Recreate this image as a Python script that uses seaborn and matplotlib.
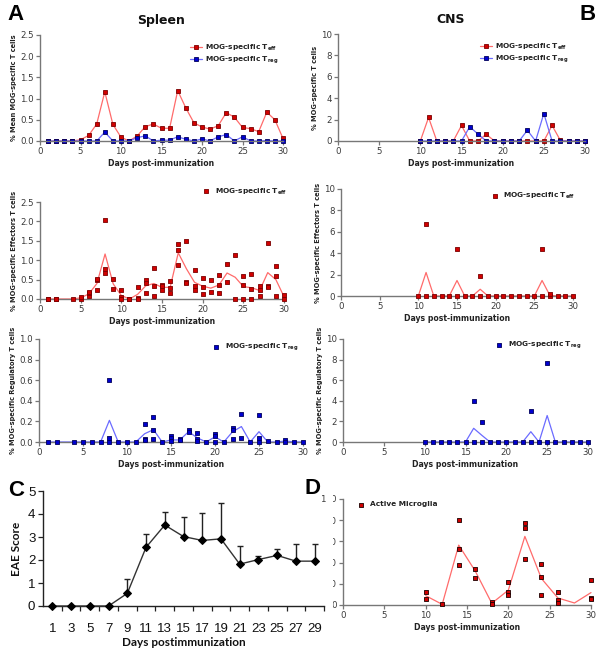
import numpy as np
import pandas as pd
import matplotlib
matplotlib.use('Agg')
import matplotlib.pyplot as plt
import seaborn as sns
from matplotlib.patches import Rectangle

sns.set_theme(style='ticks')
plt.rcParams['font.family'] = ['DejaVu Sans']
plt.rcParams['mathtext.fontset'] = 'custom'
plt.rcParams['mathtext.bf'] = 'DejaVu Sans:bold'
plt.rcParams['mathtext.rm'] = 'DejaVu Sans'

# ---------------- data ----------------
days_all = list(range(1, 31))
spleen_teff_mean = [0, 0, 0, 0, 0.03, 0.13, 0.40, 1.16, 0.39, 0.09, 0, 0.12, 0.34, 0.40, 0.30,
                    0.30, 1.19, 0.78, 0.43, 0.33, 0.28, 0.36, 0.67, 0.56, 0.32, 0.29, 0.22, 0.68, 0.50, 0.06]
spleen_treg_mean = [0, 0, 0, 0, 0, 0, 0, 0.21, 0, 0, 0, 0.08, 0.12, 0, 0.02,
                    0.02, 0.10, 0.04, 0, 0.05, 0, 0.10, 0.15, 0, 0.10, 0, 0, 0.01, 0, 0]

cns_days = list(range(10, 31))
cns_teff_mean = [0, 2.2, 0, 0, 0, 1.45, 0, 0, 0.63, 0, 0, 0, 0, 0, 0, 0, 1.45, 0.07, 0, 0, 0]
cns_treg_mean = [0, 0, 0, 0, 0, 0, 1.33, 0.65, 0, 0, 0, 0, 0, 1.0, 0, 2.57, 0, 0, 0, 0, 0]

spleen_teff_pt_day = [1, 1, 2, 2, 4, 5, 5, 6, 6, 6, 7, 7, 7, 8, 8, 8, 9, 9, 10, 10, 10, 11, 11,
                      12, 12, 12, 13, 13, 13, 14, 14, 14, 15, 15, 15, 16, 16, 16, 17, 17, 17,
                      18, 18, 18, 19, 19, 19, 20, 20, 20, 21, 21, 22, 22, 22, 23, 23, 24, 24,
                      25, 25, 25, 26, 26, 26, 27, 27, 27, 28, 28, 28, 29, 29, 29, 30, 30]
spleen_teff_pt_val = [0, 0, 0, 0, 0, 0.01, 0.05, 0.09, 0.15, 0.18, 0.24, 0.48, 0.51, 2.03, 0.78, 0.68,
                      0.52, 0.26, 0.22, 0.05, 0.0, 0, 0, 0.31, 0.03, 0.0, 0.48, 0.41, 0.16,
                      0.80, 0.34, 0.08, 0.37, 0.33, 0.22, 0.47, 0.29, 0.15, 1.41, 1.25, 0.88,
                      1.49, 0.45, 0.40, 0.76, 0.34, 0.22, 0.55, 0.31, 0.14, 0.48, 0.19,
                      0.61, 0.35, 0.15, 0.90, 0.44, 1.14, 0.0, 0.60, 0.36, 0.0, 0.65, 0.25, 0.0,
                      0.34, 0.24, 0.09, 1.45, 0.33, 0.30, 0.84, 0.60, 0.09, 0.11, 0.01]

spleen_treg_pt_day = [1, 2, 4, 5, 6, 7, 8, 8, 8, 9, 10, 11, 12, 12, 12, 13, 13, 13, 14,
                      15, 15, 15, 16, 16, 17, 17, 18, 18, 18, 19, 20, 20, 20, 21, 22, 22, 22,
                      23, 23, 24, 25, 25, 25, 26, 27, 28, 28, 29, 30]
spleen_treg_pt_val = [0, 0, 0, 0, 0, 0, 0.60, 0.04, 0.0, 0, 0, 0, 0.17, 0.03, 0.02, 0.24, 0.12, 0.03, 0,
                      0.06, 0.04, 0.01, 0.03, 0.02, 0.12, 0.10, 0.09, 0.03, 0.01, 0, 0.08, 0.06, 0.0,
                      0, 0.14, 0.12, 0.03, 0.27, 0.04, 0, 0.26, 0.04, 0.0, 0.01, 0, 0.02, 0.0, 0, 0]

cns_teff_pt_day = list(range(10, 31)) + [11, 15, 18, 26, 27]
cns_teff_pt_val = [0] * 21 + [6.7, 4.35, 1.9, 4.35, 0.2]
cns_treg_pt_day = list(range(10, 31)) + [16, 17, 23, 25]
cns_treg_pt_val = [0] * 21 + [4.0, 1.95, 3.0, 7.7]

eae_days = [1, 3, 5, 7, 9, 11, 13, 15, 17, 19, 21, 23, 25, 27, 29]
eae_mean = [0, 0, 0, 0, 0.55, 2.55, 3.52, 3.02, 2.85, 2.92, 1.82, 2.02, 2.20, 1.95, 1.95]
eae_err = [0, 0, 0, 0, 0.63, 0.57, 0.58, 0.86, 1.20, 1.56, 0.78, 0.15, 0.28, 0.75, 0.75]

micro_mean_days = [10, 12, 14, 16, 18, 20, 22, 24, 26, 28, 30]
micro_mean = [8.8, 0.6, 56.5, 32, 1.6, 14, 64.7, 25, 6.6, 1.9, 11.7]
micro_pt_day = [10, 10, 12, 14, 14, 14, 16, 16, 18, 18, 20, 20, 20, 22, 22, 22,
                24, 24, 24, 26, 26, 26, 30, 30, 30]
micro_pt_val = [12.6, 5.4, 0.6, 80, 52.7, 38, 34, 25.5, 2.8, 1.0, 22, 12.6, 9.5, 77.6, 73, 43.5,
                39, 26.8, 9.8, 12.6, 5, 1.9, 23.7, 6.3, 5.4]

# ---------------- styles ----------------
RED_LINE = '#ff6b6b'
RED_FACE = '#d10000'
RED_EDGE = '#7a0000'
BLUE_LINE = '#6b6bff'
BLUE_FACE = '#0000d0'
BLUE_EDGE = '#00005a'
TEFF = r'MOG-specific T$_{\mathbf{eff}}$'
TREG = r'MOG-specific T$_{\mathbf{reg}}$'
XLAB = dict(fontsize=5.6, fontweight='bold', color='#222222')
YLAB = dict(fontsize=4.8, fontweight='bold', color='#222222')

fig = plt.figure(figsize=(6, 6.53), dpi=100)
W, H = 600, 653


def add_ax(l, r, t, b):
    return fig.add_axes([l / W, 1 - b / H, (r - l) / W, (b - t) / H])


def style(ax, xlim, ylim, yticks, yfmt, xlabel=True, ylabel=None):
    ax.set_xlim(*xlim)
    ax.set_ylim(*ylim)
    ax.set_xticks([0, 5, 10, 15, 20, 25, 30])
    ax.set_yticks(yticks)
    ax.set_yticklabels([yfmt.format(v) for v in yticks])
    for s in ['top', 'right']:
        ax.spines[s].set_visible(False)
    for s in ['left', 'bottom']:
        ax.spines[s].set_color('#777777')
        ax.spines[s].set_linewidth(1.0)
    ax.tick_params(axis='both', direction='out', length=3, width=0.9, color='#777777',
                   labelsize=6.2, labelcolor='#3a3a3a', pad=1.5)
    ax.set_xlabel('Days post-immunization' if xlabel else '', labelpad=2, **XLAB)
    ax.set_ylabel(ylabel or '', labelpad=2, **YLAB)
    ax.grid(False)


def mean_line(ax, x, y, lc, fc, ec, label=None, marker=True):
    df = pd.DataFrame({'day': x, 'val': y})
    kw = dict(marker='s', markersize=3.3, markerfacecolor=fc, markeredgecolor=ec,
              markeredgewidth=0.6) if marker else dict()
    sns.lineplot(data=df, x='day', y='val', ax=ax, color=lc, linewidth=0.9, errorbar=None,
                 label=label, clip_on=False, legend=False, **kw)


def points(ax, x, y, fc, ec, label=None):
    df = pd.DataFrame({'day': x, 'val': y})
    sns.scatterplot(data=df, x='day', y='val', ax=ax, marker='s', s=9, color=fc,
                    edgecolor=ec, linewidth=0.6, label=label, clip_on=False, zorder=3, legend=False)


def legend(ax, **kw):
    leg = ax.legend(frameon=False, prop={'size': 5.3, 'weight': 'bold'}, handlelength=1.6,
                    handletextpad=0.4, labelspacing=0.25, borderaxespad=0.2, **kw)
    for t in leg.get_texts():
        t.set_color('#222222')
    return leg


# ---- A top ----
ax = add_ax(40, 283, 35, 141)
mean_line(ax, days_all, spleen_teff_mean, RED_LINE, RED_FACE, RED_EDGE, TEFF)
mean_line(ax, days_all, spleen_treg_mean, BLUE_LINE, BLUE_FACE, BLUE_EDGE, TREG)
style(ax, (0, 30), (0, 2.5), [0, 0.5, 1.0, 1.5, 2.0, 2.5], '{:.1f}',
      ylabel='% Mean MOG-specific T cells')
legend(ax, loc='upper right', bbox_to_anchor=(1.0, 0.97))
ax.set_title('Spleen', fontsize=9, fontweight='bold', pad=8, color='#111111')

# ---- B top ----
ax = add_ax(338, 585, 34, 141)
mean_line(ax, cns_days, cns_teff_mean, RED_LINE, RED_FACE, RED_EDGE, TEFF)
mean_line(ax, cns_days, cns_treg_mean, BLUE_LINE, BLUE_FACE, BLUE_EDGE, TREG)
style(ax, (0, 30), (0, 10), [0, 2, 4, 6, 8, 10], '{:d}', ylabel='% MOG-specific T cells')
legend(ax, loc='upper right', bbox_to_anchor=(0.95, 0.97))
ax.set_title('CNS', fontsize=9, fontweight='bold', pad=8, color='#111111', x=0.455)

# ---- A middle ----
ax = add_ax(40, 284, 202, 299)
mean_line(ax, days_all, spleen_teff_mean, RED_LINE, RED_FACE, RED_EDGE, marker=False)
points(ax, spleen_teff_pt_day, spleen_teff_pt_val, RED_FACE, RED_EDGE, TEFF)
style(ax, (0, 30), (0, 2.5), [0, 0.5, 1.0, 1.5, 2.0, 2.5], '{:.1f}',
      ylabel='% MOG-specific Effectors T cells')
legend(ax, loc='lower right', bbox_to_anchor=(1.03, 1.01))

# ---- B middle ----
ax = add_ax(341, 573, 189, 296)
mean_line(ax, cns_days, cns_teff_mean, RED_LINE, RED_FACE, RED_EDGE, marker=False)
points(ax, cns_teff_pt_day, cns_teff_pt_val, RED_FACE, RED_EDGE, TEFF)
style(ax, (0, 30), (0, 10), [0, 2, 4, 6, 8, 10], '{:d}',
      ylabel='% MOG-specific Effectors T cells')
legend(ax, loc='upper right', bbox_to_anchor=(1.03, 1.02))

# ---- A bottom ----
ax = add_ax(39, 303, 339, 442)
mean_line(ax, days_all, spleen_treg_mean, BLUE_LINE, BLUE_FACE, BLUE_EDGE, marker=False)
points(ax, spleen_treg_pt_day, spleen_treg_pt_val, BLUE_FACE, BLUE_EDGE, TREG)
style(ax, (0, 30), (0, 1.0), [0, 0.2, 0.4, 0.6, 0.8, 1.0], '{:.1f}',
      ylabel='% MOG-specific Regulatory T cells')
legend(ax, loc='upper right', bbox_to_anchor=(1.0, 1.02))

# ---- B bottom ----
ax = add_ax(343, 588, 339, 442)
mean_line(ax, cns_days, cns_treg_mean, BLUE_LINE, BLUE_FACE, BLUE_EDGE, marker=False)
points(ax, cns_treg_pt_day, cns_treg_pt_val, BLUE_FACE, BLUE_EDGE, TREG)
style(ax, (0, 30), (0, 10), [0, 2, 4, 6, 8, 10], '{:d}',
      ylabel='% MOG-specific Regulatory T cells')
legend(ax, loc='upper right', bbox_to_anchor=(0.99, 1.04))

# ---- C ----
ax = add_ax(43, 324, 491, 606)
dfc = pd.DataFrame({'day': eae_days, 'score': eae_mean})
ax.errorbar(eae_days, eae_mean, yerr=[np.zeros(len(eae_err)), eae_err], fmt='none',
            ecolor='#222222', elinewidth=1.0, capsize=2.5, capthick=1.0, zorder=2)
sns.lineplot(data=dfc, x='day', y='score', ax=ax, color='#333333', linewidth=1.0,
             marker='D', markersize=4.5, markerfacecolor='black', markeredgecolor='black',
             errorbar=None, clip_on=False, zorder=3)
ax.set_xlim(0, 30)
ax.set_ylim(0, 5)
ax.set_xticks(eae_days)
ax.set_xticklabels([str(d) for d in eae_days], fontfamily='Liberation Sans', fontsize=9.5)
ax.set_xticks(list(range(2, 31, 2)), minor=True)
ax.tick_params(axis='x', which='major', length=0, pad=12, labelcolor='#111111')
ax.tick_params(axis='x', which='minor', length=3.5, width=0.9, direction='out', color='#222222')
ax.set_yticks([0, 1, 2, 3, 4, 5])
ax.tick_params(axis='y', length=3.5, width=0.9, direction='out', color='#222222',
               labelsize=9.5, labelcolor='#111111', pad=2)
for lab in ax.get_yticklabels():
    lab.set_fontfamily('Liberation Sans')
for s in ['top', 'right']:
    ax.spines[s].set_visible(False)
for s in ['left', 'bottom']:
    ax.spines[s].set_color('#222222')
    ax.spines[s].set_linewidth(1.0)
ax.set_xlabel('Days postimmunization', fontsize=8.5, fontweight='bold', fontfamily='Lato',
              labelpad=2, color='#111111')
ax.set_ylabel('EAE Score', fontsize=8.5, fontweight='bold', fontfamily='Lato', labelpad=4,
              color='#111111')
ax.grid(False)

# ---- D ----
ax = add_ax(343, 591, 499, 605)
mean_line(ax, micro_mean_days, micro_mean, RED_LINE, RED_FACE, RED_EDGE, marker=False)
points(ax, micro_pt_day, micro_pt_val, '#d00000', '#1a0000', 'Active Microglia')
style(ax, (0, 30), (0, 100), [0, 20, 40, 60, 80, 100], '{:d}')
legend(ax, loc='upper left', bbox_to_anchor=(0.03, 1.02))
ax.set_ylabel('')
fig.add_artist(Rectangle((326 / W, 1 - 612 / H), 6.5 / W, 118 / H, transform=fig.transFigure,
                         facecolor='white', edgecolor='none', zorder=20))

# ---- panel letters ----
for txt, x, y in [('A', 16, 15), ('B', 588, 15), ('C', 16, 490), ('D', 312, 488)]:
    fig.text(x / W, 1 - y / H, txt, fontsize=16, fontweight='bold', ha='center', va='center',
             fontfamily='Liberation Sans', color='black')

fig.savefig('out.png', dpi=100, facecolor='white')
